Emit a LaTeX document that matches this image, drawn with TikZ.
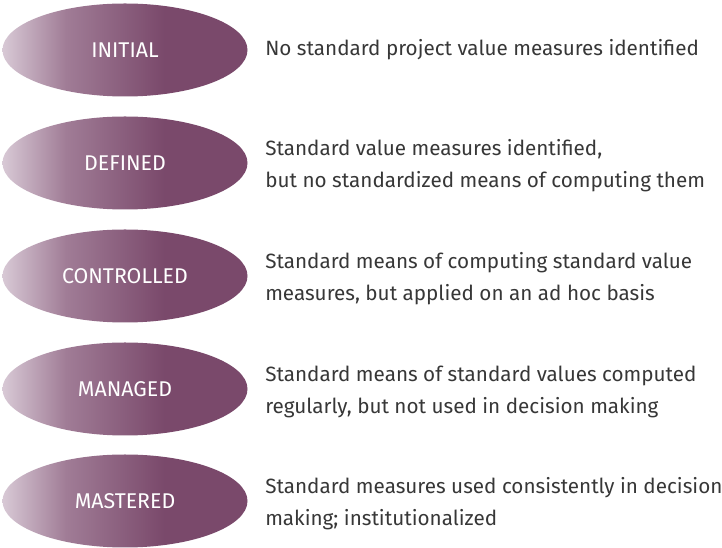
\documentclass[tikz,border=0pt]{standalone}
\usepackage{fontspec}
\setmainfont{Fira Sans}
\usetikzlibrary{shapes.geometric}

\definecolor{plum}{RGB}{122,73,107}
\definecolor{plumlight}{RGB}{216,201,214}
\definecolor{plummid}{RGB}{160,124,150}
\definecolor{textgray}{RGB}{55,55,55}

\pgfdeclarehorizontalshading{stagefill}{100bp}{
	color(0bp)=(plumlight); color(25bp)=(plumlight); color(38bp)=(plummid);
	color(58bp)=(plum); color(100bp)=(plum)}

\begin{document}
\begin{tikzpicture}[x=0.75pt, y=-0.75pt,
		stage/.style={ellipse, shading=stagefill, minimum width=183.75pt, minimum height=69.75pt, inner sep=0pt, text=white, font=\fontsize{16}{19}\selectfont},
		note/.style={anchor=west, align=left, text=textgray, inner sep=0pt, font=\fontsize{15.5}{24}\selectfont}]
	\useasboundingbox (0, 0) rectangle (722, 548);

	\draw (125, 50) 	node[stage] 	(initial) 		{INITIAL};
	\draw (125, 163) 	node[stage] 	(defined) 		{DEFINED};
	\draw (125, 276) 	node[stage] 	(controlled) 	{CONTROLLED};
	\draw (125, 389) 	node[stage] 	(managed) 		{MANAGED};
	\draw (125, 501) 	node[stage] 	(mastered) 		{MASTERED};

	\draw (265, 50) 	node[note] 	(initial_d) 	{No standard project value measures identified};
	\draw (265, 166) 	node[note] 	(defined_d) 	{Standard value measures identified,\\but no standardized means of computing them};
	\draw (265, 279) 	node[note] 	(controlled_d) 	{Standard means of computing standard value\\measures, but applied on an ad hoc basis};
	\draw (265, 392) 	node[note] 	(managed_d) 	{Standard means of standard values computed\\regularly, but not used in decision making};
	\draw (265, 504) 	node[note] 	(mastered_d) 	{Standard measures used consistently in decision\\making; institutionalized};
\end{tikzpicture}
\end{document}
